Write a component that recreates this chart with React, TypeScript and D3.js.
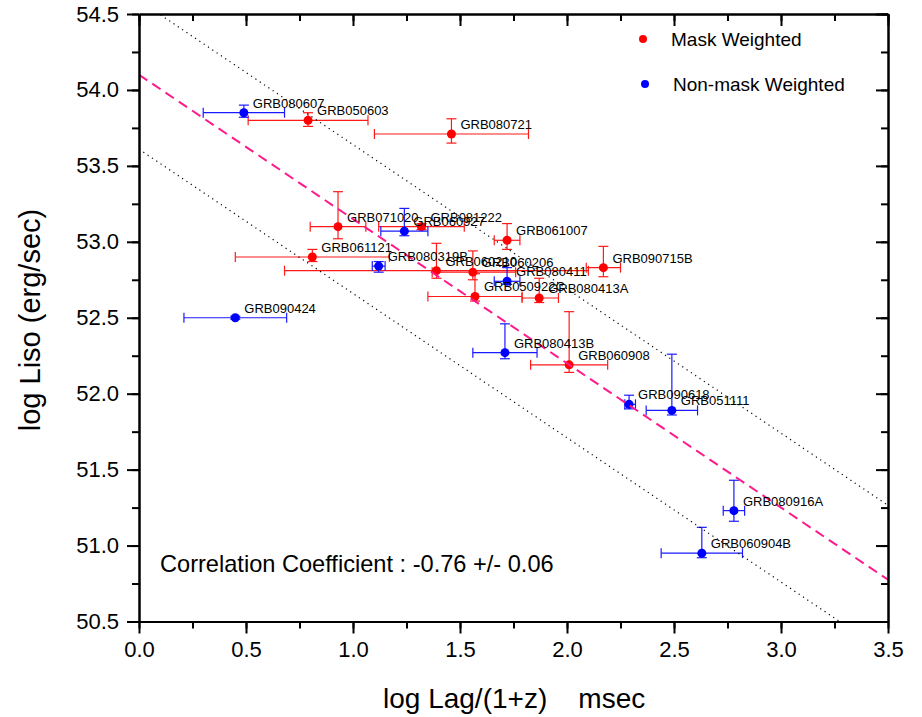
import { useEffect, useRef } from 'react';
import * as d3 from 'd3';

// Mask weighted bursts (red)
const maskNames = ['GRB050603', 'GRB080721', 'GRB071020', 'GRB081222', 'GRB061121', 'GRB061007',
  'GRB060210', 'GRB060206', 'GRB090715B', 'GRB050922C', 'GRB080413A', 'GRB060908'];
const maskLag = [0.79, 1.46, 0.93, 1.32, 0.81, 1.72, 1.39, 1.56, 2.17, 1.57, 1.87, 2.01];
const maskLagLo = [0.51, 1.10, 0.80, 1.12, 0.45, 1.66, 0.68, 1.37, 2.09, 1.35, 1.79, 1.83];
const maskLagHi = [1.07, 1.82, 1.06, 1.52, 1.17, 1.78, 2.10, 1.76, 2.25, 1.79, 1.96, 2.19];
const maskLiso = [53.80, 53.71, 53.10, 53.10, 52.90, 53.01, 52.81, 52.80, 52.83, 52.64, 52.63, 52.19];
const maskLisoLo = [53.76, 53.65, 53.02, 53.08, 52.87, 52.95, 52.76, 52.75, 52.77, 52.61, 52.60, 52.14];
const maskLisoHi = [53.85, 53.81, 53.33, 53.12, 52.95, 53.12, 52.99, 52.94, 52.97, 52.79, 52.76, 52.54];

// Non-mask weighted bursts (blue)
const nonMaskNames = ['GRB080607', 'GRB060927', 'GRB080319B', 'GRB090424', 'GRB080411', 'GRB080413B',
  'GRB090618', 'GRB051111', 'GRB080916A', 'GRB060904B'];
const nonMaskLag = [0.49, 1.24, 1.12, 0.45, 1.72, 1.71, 2.29, 2.49, 2.78, 2.63];
const nonMaskLagLo = [0.30, 1.13, 1.09, 0.21, 1.66, 1.56, 2.27, 2.37, 2.73, 2.44];
const nonMaskLagHi = [0.68, 1.35, 1.15, 0.69, 1.78, 1.86, 2.32, 2.61, 2.83, 2.82];
const nonMaskLiso = [53.85, 53.07, 52.84, 52.50, 52.74, 52.27, 51.93, 51.89, 51.23, 50.95];
const nonMaskLisoLo = [53.82, 53.04, 52.80, 52.49, 52.72, 52.23, 51.90, 51.86, 51.16, 50.92];
const nonMaskLisoHi = [53.90, 53.22, 52.87, 52.51, 52.83, 52.46, 51.99, 52.26, 51.43, 51.12];

// Fitted relation and its band
const fitIntercept = 54.1;
const fitSlope = -0.95;
const bandOffset = 0.49;

const xTicks = [0, 0.5, 1.0, 1.5, 2.0, 2.5, 3.0, 3.5];
const yTicks = [50.5, 51.0, 51.5, 52.0, 52.5, 53.0, 53.5, 54.0, 54.5];

interface Burst {
  name: string;
  x: number; xLo: number; xHi: number;
  y: number; yLo: number; yHi: number;
}

function zipBursts(names: string[], x: number[], xLo: number[], xHi: number[],
  y: number[], yLo: number[], yHi: number[]): Burst[] {
  return names.map((name, i) => ({ name, x: x[i], xLo: xLo[i], xHi: xHi[i], y: y[i], yLo: yLo[i], yHi: yHi[i] }));
}

export default function App() {
  const svgRef = useRef<SVGSVGElement>(null);

  useEffect(() => {
    if (!svgRef.current) return;
    const svg = d3.select(svgRef.current);
    svg.selectAll('*').remove();

    const left = 139, right = 888, top = 14, bottom = 621.5;
    const x = d3.scaleLinear().domain([0, 3.5]).range([left, right]);
    const y = d3.scaleLinear().domain([50.5, 54.5]).range([bottom, top]);

    const groups = [
      { data: zipBursts(maskNames, maskLag, maskLagLo, maskLagHi, maskLiso, maskLisoLo, maskLisoHi), color: '#ff0000', err: '#ff1a1a' },
      { data: zipBursts(nonMaskNames, nonMaskLag, nonMaskLagLo, nonMaskLagHi, nonMaskLiso, nonMaskLisoLo, nonMaskLisoHi), color: '#0000ff', err: '#1a1aff' },
    ];

    svg.append('defs').append('clipPath').attr('id', 'plot-clip')
      .append('rect').attr('x', left).attr('y', top).attr('width', right - left).attr('height', bottom - top);

    const cap = 5;
    groups.forEach(grp => {
      const g = svg.append('g');
      grp.data.forEach(d => {
        const cx = x(d.x), cy = y(d.y);
        // horizontal error bar with caps
        g.append('line').attr('x1', x(d.xLo)).attr('x2', x(d.xHi)).attr('y1', cy).attr('y2', cy)
          .attr('stroke', grp.err).attr('stroke-width', 1.2);
        [d.xLo, d.xHi].forEach(v => {
          g.append('line').attr('x1', x(v)).attr('x2', x(v)).attr('y1', cy - cap).attr('y2', cy + cap)
            .attr('stroke', grp.err).attr('stroke-width', 1.2);
        });
        // vertical error bar with caps
        g.append('line').attr('x1', cx).attr('x2', cx).attr('y1', y(d.yLo)).attr('y2', y(d.yHi))
          .attr('stroke', grp.err).attr('stroke-width', 1.2);
        [d.yLo, d.yHi].forEach(v => {
          g.append('line').attr('x1', cx - cap).attr('x2', cx + cap).attr('y1', y(v)).attr('y2', y(v))
            .attr('stroke', grp.err).attr('stroke-width', 1.2);
        });
      });
      g.selectAll('circle').data(grp.data).enter().append('circle')
        .attr('cx', d => x(d.x)).attr('cy', d => y(d.y)).attr('r', 4.5).attr('fill', grp.color);
    });

    // Fit line and band
    const lines = svg.append('g').attr('clip-path', 'url(#plot-clip)');
    const lineAt = (b: number) => [[0, b], [3.5, b + fitSlope * 3.5]] as [number, number][];
    const path = d3.line<[number, number]>().x(d => x(d[0])).y(d => y(d[1]));
    lines.append('path').attr('d', path(lineAt(fitIntercept + bandOffset)))
      .attr('stroke', '#000').attr('stroke-width', 1.2).attr('stroke-dasharray', '1.2 4').attr('fill', 'none');
    lines.append('path').attr('d', path(lineAt(fitIntercept - bandOffset)))
      .attr('stroke', '#000').attr('stroke-width', 1.2).attr('stroke-dasharray', '1.2 4').attr('fill', 'none');
    lines.append('path').attr('d', path(lineAt(fitIntercept)))
      .attr('stroke', '#ff1a8c').attr('stroke-width', 2).attr('stroke-dasharray', '10 6').attr('fill', 'none');

    // Burst labels
    groups.forEach(grp => {
      svg.append('g').selectAll('text').data(grp.data).enter().append('text')
        .attr('x', d => x(d.x) + 9).attr('y', d => y(d.y) - 9.5)
        .attr('dominant-baseline', 'central')
        .style('font-size', '13px').attr('fill', '#000')
        .text(d => d.name);
    });

    // Axes
    const minorX = d3.range(0, 3.51, 0.25);
    const minorY = d3.range(50.5, 54.51, 0.25);
    const styleAxis = (sel: d3.Selection<SVGGElement, unknown, null, undefined>) => {
      sel.select('.domain').attr('stroke-width', 2);
      sel.selectAll('.tick line').attr('stroke-width', 2);
      sel.selectAll('.tick text').style('font-size', '22px').style('font-family', 'Liberation Sans, Arial, sans-serif');
    };
    const axes: [d3.Axis<d3.NumberValue>, string][] = [
      [d3.axisBottom(x).tickValues(xTicks).tickFormat(d3.format('.1f')).tickSize(12).tickPadding(8).tickSizeOuter(0), `translate(0,${bottom})`],
      [d3.axisBottom(x).tickValues(minorX).tickFormat(() => '').tickSize(7).tickSizeOuter(0), `translate(0,${bottom})`],
      [d3.axisTop(x).tickValues(xTicks).tickFormat(() => '').tickSize(-12).tickSizeOuter(0), `translate(0,${top})`],
      [d3.axisTop(x).tickValues(minorX).tickFormat(() => '').tickSize(-7).tickSizeOuter(0), `translate(0,${top})`],
      [d3.axisLeft(y).tickValues(yTicks).tickFormat(d3.format('.1f')).tickSize(12).tickPadding(8).tickSizeOuter(0), `translate(${left},0)`],
      [d3.axisLeft(y).tickValues(minorY).tickFormat(() => '').tickSize(7).tickSizeOuter(0), `translate(${left},0)`],
      [d3.axisRight(y).tickValues(yTicks).tickFormat(() => '').tickSize(-12).tickSizeOuter(0), `translate(${right},0)`],
      [d3.axisRight(y).tickValues(minorY).tickFormat(() => '').tickSize(-7).tickSizeOuter(0), `translate(${right},0)`],
    ];
    axes.forEach(([axis, transform]) => {
      const ag = svg.append('g').attr('transform', transform).call(axis as any);
      styleAxis(ag as any);
    });

    // Axis titles
    svg.append('text')
      .attr('x', 383).attr('y', 708)
      .style('font-size', '28px').style('white-space', 'pre')
      .text('log Lag/(1+z)    msec');
    svg.append('text')
      .attr('transform', 'translate(40,320) rotate(-90)')
      .attr('text-anchor', 'middle')
      .style('font-size', '29px')
      .text('log Liso (erg/sec)');

    // Legend
    const legend = [
      { color: '#ff0000', label: 'Mask Weighted', cx: 643, cy: 39 },
      { color: '#0000ff', label: 'Non-mask Weighted', cx: 645, cy: 84 },
    ];
    legend.forEach(item => {
      svg.append('circle').attr('cx', item.cx).attr('cy', item.cy).attr('r', 4).attr('fill', item.color);
      svg.append('text').attr('x', item.cx + 28).attr('y', item.cy + 7)
        .style('font-size', '19px').text(item.label);
    });

    // Correlation annotation
    svg.append('text')
      .attr('x', 160).attr('y', 572)
      .style('font-size', '23.6px')
      .text('Correlation Coefficient : -0.76 +/- 0.06');
  }, []);

  return (
    <svg ref={svgRef} width={922} height={717}
      style={{ position: 'absolute', left: 0, top: 0, background: '#fff', fontFamily: 'Liberation Sans, Arial, sans-serif' }} />
  );
}
